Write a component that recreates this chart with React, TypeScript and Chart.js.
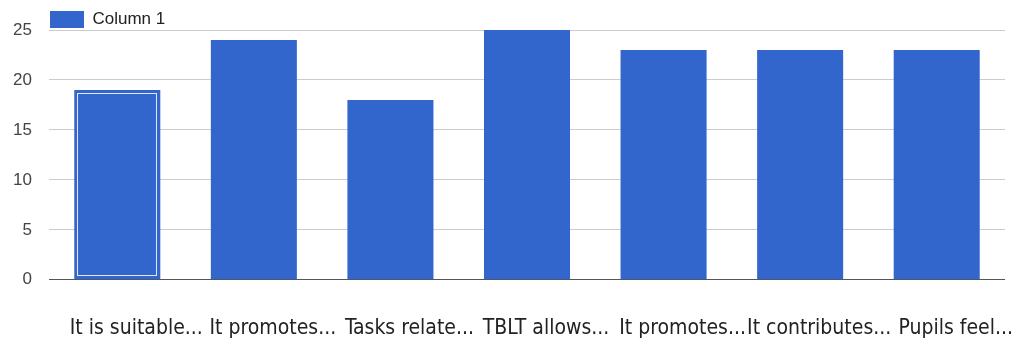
import React, { useEffect, useRef } from "react";
import { Chart, registerables } from "chart.js";

Chart.register(...registerables);

const categories = [
  "It is suitable...",
  "It promotes...",
  "Tasks relate...",
  "TBLT allows...",
  "It promotes...",
  "It contributes...",
  "Pupils feel...",
];
const seriesName = "Column 1";
const values = [19, 24, 18, 25, 23, 23, 23];
const yTicks = [0, 5, 10, 15, 20, 25];

const selectedBarPlugin = {
  id: "selectedBar",
  afterDatasetsDraw(chart: any) {
    const meta = chart.getDatasetMeta(0);
    const bar = meta.data[0];
    if (!bar) return;
    const { x, y, base, width } = bar.getProps(["x", "y", "base", "width"], true);
    const ctx = chart.ctx;
    ctx.save();
    ctx.strokeStyle = "rgba(255,255,255,0.85)";
    ctx.lineWidth = 1;
    const inset = 3;
    ctx.strokeRect(
      Math.round(x - width / 2 + inset) + 0.5,
      Math.round(y + inset) + 0.5,
      Math.round(width - 2 * inset) - 1,
      Math.round(base - y - 2 * inset) - 1
    );
    ctx.restore();
  },
};

// tighten the gap between the legend and the plot area
const legendGapPlugin = {
  id: "legendGap",
  beforeLayout(chart: any) {
    const legend = chart.legend;
    if (legend && !legend.__patched) {
      const orig = legend.fit;
      legend.fit = function () {
        orig.call(this);
        this.height = Math.max(0, this.height - 8);
      };
      legend.__patched = true;
    }
  },
};

export default function App() {
  const ref = useRef<HTMLCanvasElement | null>(null);
  useEffect(() => {
    document.body.style.margin = "0";
    const canvas = ref.current!;
    const chart = new Chart(canvas, {
      type: "bar",
      data: {
        labels: categories,
        datasets: [
          {
            label: seriesName,
            data: values,
            backgroundColor: "#3366cc",
            borderWidth: 0,
            categoryPercentage: 1,
            barPercentage: 0.63,
          },
        ],
      },
      options: {
        animation: false,
        responsive: false,
        maintainAspectRatio: false,
        layout: { padding: { top: 10, right: 19, bottom: 0, left: 0 } },
        plugins: {
          tooltip: { enabled: false },
          legend: {
            display: true,
            position: "top",
            align: "start",
            fullSize: false,
            labels: {
              boxWidth: 34,
              boxHeight: 17,
              padding: 1,
              color: "#222",
              font: { family: "'Liberation Sans', Arial, sans-serif", size: 17 },
            },
          },
        },
        scales: {
          x: {
            border: { display: false },
            grid: {
              display: true,
              drawOnChartArea: false,
              drawTicks: true,
              tickLength: 35,
              tickColor: "rgba(0,0,0,0)",
              color: "rgba(0,0,0,0)",
            },
            ticks: {
              autoSkip: false,
              maxRotation: 0,
              minRotation: 0,
              padding: 1,
              labelOffset: 19,
              color: "#222",
              font: {
                family: "'DejaVu Sans Condensed', 'Liberation Sans Narrow', sans-serif",
                size: 21,
              },
            },
          },
          y: {
            min: 0,
            max: 25,
            afterBuildTicks(axis: any) {
              axis.ticks = yTicks.map((v) => ({ value: v }));
            },
            afterFit(axis: any) {
              axis.width = 49;
            },
            border: { display: false },
            grid: {
              drawTicks: false,
              color: (ctx: any) => (ctx.tick && ctx.tick.value === 0 ? "#555" : "#cccccc"),
              lineWidth: 1,
            },
            ticks: {
              padding: 17,
              color: "#444",
              font: { family: "'Liberation Sans', Arial, sans-serif", size: 17 },
            },
          },
        },
      },
      plugins: [selectedBarPlugin, legendGapPlugin],
    });
    return () => chart.destroy();
  }, []);
  return (
    <div style={{ position: "absolute", left: 0, top: 0, width: 1024, height: 342, background: "#fff" }}>
      <canvas ref={ref} width={1024} height={342} style={{ width: 1024, height: 342 }} />
    </div>
  );
}
